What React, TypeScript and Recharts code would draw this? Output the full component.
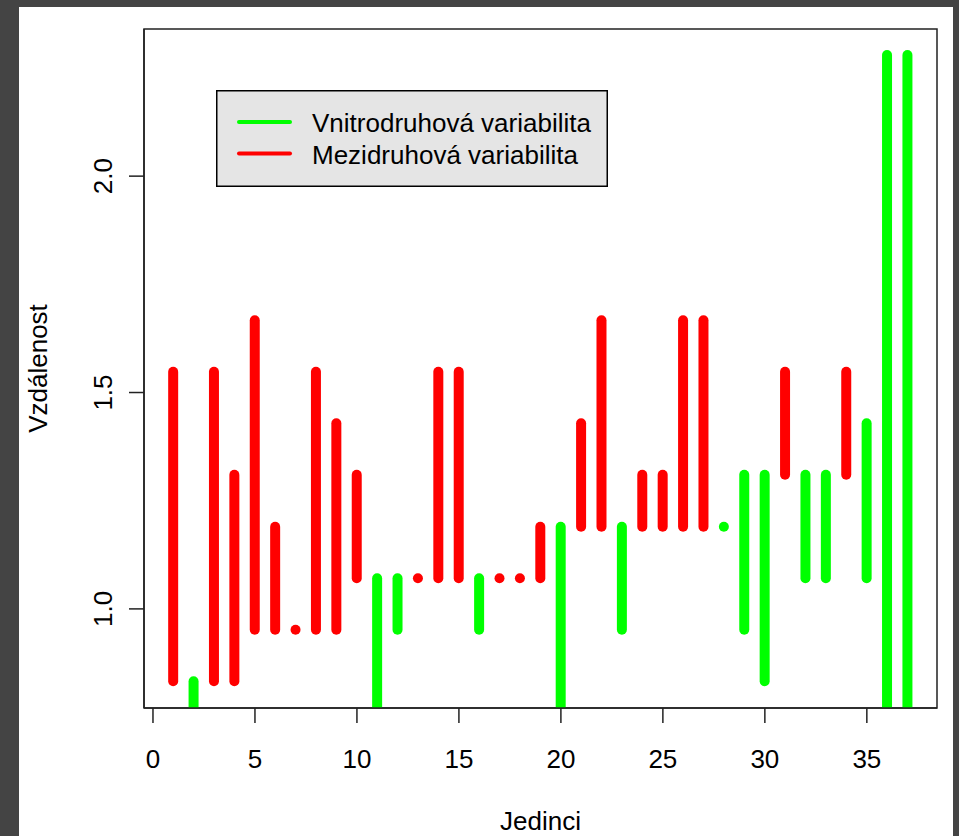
import React from "react";
import { ComposedChart, Bar, XAxis, YAxis, Legend, Label, ReferenceArea } from "recharts";

// Individuals (Jedinci)
const individuals = [
  1, 2, 3, 4, 5, 6, 7, 8, 9, 10, 11, 12, 13, 14, 15, 16, 17, 18, 19, 20,
  21, 22, 23, 24, 25, 26, 27, 28, 29, 30, 31, 32, 33, 34, 35, 36, 37,
];
// Segment lower ends (Vzdálenost)
const lowValues = [
  0.833, 0.714, 0.833, 0.833, 0.952, 0.952, 0.952, 0.952, 0.952, 1.071,
  0.714, 0.952, 1.071, 1.071, 1.071, 0.952, 1.071, 1.071, 1.071, 0.714,
  1.19, 1.19, 0.952, 1.19, 1.19, 1.19, 1.19, 1.19, 0.952, 0.833,
  1.31, 1.071, 1.071, 1.31, 1.071, 0.6, 0.6,
];
// Segment upper ends
const highValues = [
  1.548, 0.833, 1.548, 1.31, 1.667, 1.19, 0.952, 1.548, 1.429, 1.31,
  1.071, 1.071, 1.071, 1.548, 1.548, 1.071, 1.071, 1.071, 1.19, 1.19,
  1.429, 1.667, 1.19, 1.31, 1.31, 1.667, 1.667, 1.19, 1.31, 1.31,
  1.548, 1.31, 1.31, 1.548, 1.429, 2.28, 2.28,
];
// Group: "V" = Vnitrodruhová (within species), "M" = Mezidruhová (between species)
const groups = [
  "M", "V", "M", "M", "M", "M", "M", "M", "M", "M",
  "V", "V", "M", "M", "M", "V", "M", "M", "M", "V",
  "M", "M", "V", "M", "M", "M", "M", "V", "V", "V",
  "M", "V", "V", "M", "V", "V", "V",
];

const xTicks = [0, 5, 10, 15, 20, 25, 30, 35];
const yTicks = [1.0, 1.5, 2.0];
const xDomain: [number, number] = [-0.44, 38.44];
const yDomain: [number, number] = [0.771, 2.34];
const legendLabels = ["Vnitrodruhová variabilita", "Mezidruhová variabilita"];
const legendGroups = ["V", "M"];
const groupColors: Record<string, string> = { V: "#00ff00", M: "#ff0000" };

const data = individuals.map((id, i) => ({
  id,
  range: [lowValues[i], highValues[i]],
  group: groups[i],
}));

const FONT = "'Liberation Sans', Arial, sans-serif";

const SegmentShape = (props: any) => {
  const { x, y, width, height, payload } = props;
  if (x == null || y == null) return null;
  const cx = x + (width || 0) / 2;
  const y1 = y;
  const y2 = y + (height || 0);
  return (
    <line
      x1={cx}
      x2={cx}
      y1={y1}
      y2={y2}
      stroke={groupColors[payload.group]}
      strokeWidth={10}
      strokeLinecap="round"
    />
  );
};

const YTick = (props: any) => {
  const { x, y, payload } = props;
  return (
    <text
      x={x}
      y={y}
      transform={`rotate(-90 ${x} ${y})`}
      textAnchor="middle"
      fontSize={26}
      fill="#000"
      fontFamily={FONT}
    >
      {payload.value.toFixed(1)}
    </text>
  );
};

const LegendBox = () => (
  <svg width={393} height={98} style={{ display: "block" }}>
    <rect x={0.75} y={0.75} width={390.5} height={95.5} fill="#e5e5e5" stroke="#000" strokeWidth={1.5} />
    {legendLabels.map((label, i) => (
      <g key={label}>
        <line
          x1={23}
          x2={74}
          y1={32 + i * 31.5}
          y2={32 + i * 31.5}
          stroke={groupColors[legendGroups[i]]}
          strokeWidth={4}
          strokeLinecap="round"
        />
        <text x={96} y={41.5 + i * 32} fontSize={26} fill="#000" fontFamily={FONT}>
          {label}
        </text>
      </g>
    ))}
  </svg>
);

export default function App() {
  return (
    <div
      style={{
        position: "absolute",
        left: 0,
        top: 0,
        width: 959,
        height: 836,
        background: "#444444",
        fontFamily: FONT,
        overflow: "hidden",
      }}
    >
      <div
        style={{
          position: "absolute",
          left: 19,
          top: 7,
          width: 934,
          height: 829,
          background: "#ffffff",
        }}
      />
      <div style={{ position: "absolute", left: 0, top: 0 }}>
        <ComposedChart
          width={959}
          height={836}
          data={data}
          margin={{ top: 29, right: 22, bottom: 0, left: 0 }}
        >
          <XAxis
            dataKey="id"
            type="number"
            domain={xDomain}
            allowDataOverflow
            ticks={xTicks}
            interval={0}
            height={128}
            tickSize={15}
            tickMargin={27}
            stroke="#222"
            strokeWidth={1.5}
            tick={{ fontSize: 26, fill: "#000", fontFamily: FONT }}
          >
            <Label
              content={(p: any) => {
                const vb = p.viewBox || {};
                return (
                  <text
                    x={vb.x + vb.width / 2}
                    y={vb.y + 122}
                    textAnchor="middle"
                    fontSize={26}
                    fill="#000"
                    fontFamily={FONT}
                  >
                    Jedinci
                  </text>
                );
              }}
            />
          </XAxis>
          <YAxis
            type="number"
            domain={yDomain}
            allowDataOverflow
            ticks={yTicks}
            interval={0}
            width={144}
            tickSize={15}
            tickMargin={17}
            stroke="#222"
            strokeWidth={1.5}
            tick={<YTick />}
          >
            <Label
              content={(p: any) => {
                const vb = p.viewBox || {};
                const cx = 47;
                const cy = vb.y + vb.height / 2;
                return (
                  <text
                    x={cx}
                    y={cy}
                    transform={`rotate(-90 ${cx} ${cy})`}
                    textAnchor="middle"
                    fontSize={26}
                    fill="#000"
                    fontFamily={FONT}
                  >
                    Vzdálenost
                  </text>
                );
              }}
            />
          </YAxis>
          <ReferenceArea
            x1={xDomain[0]}
            x2={xDomain[1]}
            y1={yDomain[0]}
            y2={yDomain[1]}
            fill="none"
            fillOpacity={0}
            stroke="#222"
            strokeWidth={1.5}
            strokeOpacity={1}
            ifOverflow="visible"
          />
          <Legend
            layout="vertical"
            align="center"
            verticalAlign="middle"
            content={() => <LegendBox />}
            wrapperStyle={{ position: "absolute", left: 216, top: 90, width: 393, height: 98 }}
          />
          <Bar
            dataKey="range"
            barSize={10}
            shape={<SegmentShape />}
            isAnimationActive={false}
          />
        </ComposedChart>
      </div>
    </div>
  );
}
